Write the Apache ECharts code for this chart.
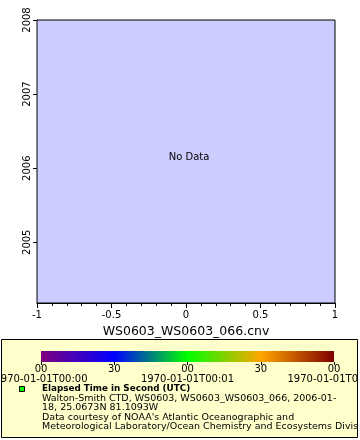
<!DOCTYPE html>
<html><head><meta charset="utf-8">
<script src="https://cdn.jsdelivr.net/npm/echarts@6/dist/echarts.min.js"></script>
<style>html,body{margin:0;padding:0;background:#fff}#c{width:360px;height:440px}</style>
</head><body><div id="c"></div>
<script>
// ---- data ----
var xRange = [-1, 1];
var xTickInterval = 0.5;
var yRange = [2004.18, 2008];
var yTickValues = [2005, 2006, 2007, 2008];
var xAxisTitle = 'WS0603_WS0603_066.cnv';
var noDataText = 'No Data';
var seriesData = []; // no data
var cbRange = [0, 120];
var cbTickValues = [0, 30, 60, 90, 120];
var cbTickLabels = ['00\n1970-01-01T00:00', '30', '00\n1970-01-01T00:01', '30', '00\n1970-01-01T00:02'];
var cbColors = ['#7f007f', '#0000ff', '#00ff00', '#ffa500', '#7f0000'];
var legendTitle = 'Elapsed Time in Second (UTC)';
var legendLines = [
  'Walton-Smith CTD, WS0603, WS0603_WS0603_066, 2006-01-',
  '18, 25.0673N 81.1093W',
  "Data courtesy of NOAA's Atlantic Oceanographic and",
  'Meteorological Laboratory/Ocean Chemistry and Ecosystems Division'
];

var FONT = 'DejaVu Sans';
var chart = echarts.init(document.getElementById('c'), null, {renderer: 'canvas'});

var stops = cbColors.map(function (c, i) { return {offset: i / (cbColors.length - 1), color: c}; });

var graphics = [
  {type: 'rect', shape: {x: 1.5, y: 339.5, width: 356, height: 98}, style: {fill: '#ffffcc', stroke: '#000', lineWidth: 1}, z: 0, silent: true},
  {type: 'rect', shape: {x: 41, y: 351, width: 293, height: 11},
   style: {fill: new echarts.graphic.LinearGradient(0, 0, 1, 0, stops)}, z: 1, silent: true},
  {type: 'rect', shape: {x: 19.5, y: 386.5, width: 5, height: 5}, style: {fill: '#00ff00', stroke: '#000', lineWidth: 1}, z: 5},
  {type: 'text', x: 42, y: 389, style: {text: legendTitle, font: 'bold 8.8px "' + FONT + '"', fill: '#000', textVerticalAlign: 'middle'}, z: 5},
  {type: 'text', x: 189, y: 157, style: {text: noDataText, font: '10px "' + FONT + '"', fill: '#000', textAlign: 'center', textVerticalAlign: 'middle'}, z: 5},
  {type: 'rect', shape: {x: 358, y: 339, width: 2, height: 100}, style: {fill: '#fff'}, z: 100, silent: true}
];
legendLines.forEach(function (t, i) {
  graphics.push({type: 'text', x: 42, y: 398.5 + i * 9.5, style: {text: t, font: '9.5px "' + FONT + '"', fill: '#000', textVerticalAlign: 'middle'}, z: 5});
});

chart.setOption({
  animation: false,
  backgroundColor: '#ffffff',
  textStyle: {fontFamily: FONT},
  grid: [
    {left: 37, top: 20, width: 298, height: 283, show: true, backgroundColor: '#ccccff', borderColor: '#000', borderWidth: 1, z: 2, outerBoundsMode: 'none', containLabel: false},
    {left: 41, top: 351, width: 293, height: 11, show: false, outerBoundsMode: 'none', containLabel: false}
  ],
  xAxis: [
    {type: 'value', gridIndex: 0, min: xRange[0], max: xRange[1], interval: xTickInterval,
     axisLine: {show: true, onZero: false, lineStyle: {color: '#000', width: 1}},
     axisTick: {show: true, length: 5, lineStyle: {color: '#000'}},
     minorTick: {show: true, splitNumber: 5, length: 3, lineStyle: {color: '#000'}},
     splitLine: {show: false},
     axisLabel: {color: '#000', fontSize: 10, fontFamily: FONT, margin: 7,
       formatter: function (v) { return String(Math.round(v * 10) / 10); }},
     name: xAxisTitle, nameLocation: 'middle', nameGap: 22,
     nameTextStyle: {color: '#000', fontSize: 12.5, fontFamily: FONT}},
    {type: 'value', gridIndex: 1, min: cbRange[0], max: cbRange[1], interval: 30,
     axisLine: {show: false},
     axisTick: {show: true, length: 3, inside: false, lineStyle: {color: '#000'}},
     splitLine: {show: false},
     axisLabel: {color: '#000', fontSize: 10, fontFamily: FONT, margin: 3, lineHeight: 9.5,
       hideOverlap: false,
       formatter: function (v) { var i = cbTickValues.indexOf(v); return i >= 0 ? cbTickLabels[i] : ''; }}}
  ],
  yAxis: [
    {type: 'value', gridIndex: 0, min: yRange[0], max: yRange[1],
     axisLine: {show: true, onZero: false, lineStyle: {color: '#000', width: 1}},
     axisTick: {show: true, length: 4, customValues: yTickValues, lineStyle: {color: '#000'}},
     splitLine: {show: false},
     axisLabel: {color: '#000', fontSize: 10, fontFamily: FONT, rotate: 90, margin: 5, customValues: yTickValues,
       formatter: function (v) { return String(Math.round(v)); }}},
    {type: 'value', gridIndex: 1, show: false, min: 0, max: 1}
  ],
  series: [
    {type: 'scatter', xAxisIndex: 0, yAxisIndex: 0, data: seriesData}
  ],
  graphic: graphics
});
</script></body></html>
